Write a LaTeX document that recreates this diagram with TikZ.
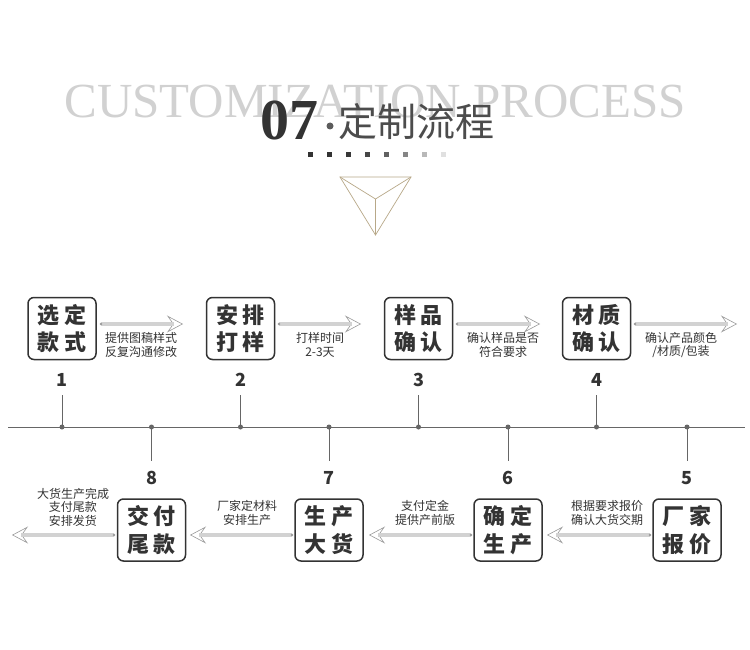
\documentclass[tikz,border=0pt]{standalone}
\usepackage{fontspec}
\usetikzlibrary{arrows.meta,calc}
\setmainfont{Liberation Serif}
\newfontfamily\cjk{Noto Sans CJK SC}
\definecolor{ink}{HTML}{333333}
\definecolor{tline}{HTML}{666666}
\definecolor{tan}{HTML}{B8A888}
\tikzset{
  stepbox/.style={draw=ink,line width=1.5pt,rounded corners=6pt,minimum width=68pt,minimum height=62pt,
    align=center,font=\cjk\bfseries\fontsize{22}{27.5}\selectfont,text=ink,inner sep=0pt},
  num/.style={font=\cjk\bfseries\fontsize{18}{18}\selectfont,text=ink},
  lbl/.style={font=\cjk\fontsize{12}{13.5}\selectfont,text=ink,align=center},
  tick/.style={draw=tline,line width=0.9pt},
  dotm/.style={circle,fill=tline,inner sep=0pt,minimum size=5pt},
  headline/.style={draw=gray!80,line width=0.6pt,-{Stealth[open,length=16pt,width=17pt,inset=6pt]}},
  shaft/.style={draw=gray!75,line width=0.5pt,double=gray!35,double distance=3.5pt},
}
\begin{document}
\begin{tikzpicture}[x=1pt,y=-1pt]
\useasboundingbox[fill=white] (0,0) rectangle (750,650);
% titles
\node[font=\fontsize{49}{49}\selectfont,text=black!18,inner sep=0pt,anchor=base] (en) at (375,118) {CUSTOMIZATION PROCESS};
\node[font=\bfseries\fontsize{58}{58}\selectfont,text=ink,inner sep=0pt,anchor=base east] (n07) at (319,140) {07};
\node[circle,fill=ink!80,inner sep=0pt,minimum size=7pt] (bul) at (330,126) {};
\node[font=\cjk\fontsize{39}{39}\selectfont,text=black!70,inner sep=0pt,anchor=base west] (zh) at (338,137) {定制流程};
% fading squares
\foreach \i/\c in {0/80,1/80,2/78,3/72,4/62,5/48,6/28,7/12}
  \fill[black!\c] ({310+19*\i-2.5},152.5) rectangle ++(5,5);
% triangle
\coordinate (tA) at (340,177);
\coordinate (tB) at (411,177);
\coordinate (tC) at (375.5,235);
\coordinate (tO) at (375.5,199);
\draw[tan,line width=0.7pt] (tA) -- (tB) -- (tC) -- cycle;
\draw[tan,line width=0.7pt] (tA) -- (tO) -- (tB) (tO) -- (tC);
% timeline
\coordinate (L) at (8,427);
\coordinate (R) at (745,427);
\draw[tline,line width=1pt] (L) -- (R);
% top steps
\foreach \n/\x/\t in {1/62/{选\hspace{5pt}定\\款\hspace{5pt}式},2/240.5/{安\hspace{5pt}排\\打\hspace{5pt}样},3/418.5/{样\hspace{5pt}品\\确\hspace{5pt}认},4/596.5/{材\hspace{5pt}质\\确\hspace{5pt}认}}{
  \node[stepbox] (box\n) at (\x,328.5) {\t};
  \node[num] (num\n) at (\x,380) {\n};
  \node[dotm] (dot\n) at (\x,427) {};
  \coordinate (top\n) at (\x,395);
  \draw[tick] (top\n) -- (dot\n.center);
}
% bottom steps
\foreach \n/\x/\t in {5/687/{厂\hspace{5pt}家\\报\hspace{5pt}价},6/508/{确\hspace{5pt}定\\生\hspace{5pt}产},7/329/{生\hspace{5pt}产\\大\hspace{5pt}货},8/151.5/{交\hspace{5pt}付\\尾\hspace{5pt}款}}{
  \node[stepbox] (box\n) at (\x,530) {\t};
  \node[num] (num\n) at (\x,478) {\n};
  \node[dotm] (dot\n) at (\x,427) {};
  \coordinate (bot\n) at (\x,461);
  \draw[tick] (dot\n.center) -- (bot\n);
}
% top arrows
\foreach \i/\sx/\ex in {1/101/183,2/279/361,3/457/540,4/635/737}{
  \coordinate (as\i) at (\sx,324);
  \coordinate (ae\i) at (\ex,324);
  \draw[headline] (as\i) -- (ae\i);
  \draw[shaft] (as\i) -- ($(ae\i)+(-9,0)$);
  \fill[gray!80] (as\i) circle (1.4pt);
}
\node[lbl] (l1) at (141,345) {提供图稿样式\\反复沟通修改};
\node[lbl] (l2) at (320,345) {打样时间\\2-3天};
\node[lbl] (l3) at (503,345) {确认样品是否\\符合要求};
\node[lbl] (l4) at (681,345) {确认产品颜色\\/材质/包装};
% bottom arrows
\foreach \i/\sx/\ex in {5/650/547,6/471/369,7/292/190,8/114/12}{
  \coordinate (bs\i) at (\sx,535);
  \coordinate (be\i) at (\ex,535);
  \draw[headline] (bs\i) -- (be\i);
  \draw[shaft] (bs\i) -- ($(be\i)+(9,0)$);
  \fill[gray!80] (bs\i) circle (1.4pt);
}
\node[lbl] (l5) at (607,513) {根据要求报价\\确认大货交期};
\node[lbl] (l6) at (425,513) {支付定金\\提供产前版};
\node[lbl] (l7) at (247,513) {厂家定材料\\安排生产};
\node[lbl] (l8) at (73,507) {大货生产完成\\支付尾款\\安排发货};
\end{tikzpicture}
\end{document}
